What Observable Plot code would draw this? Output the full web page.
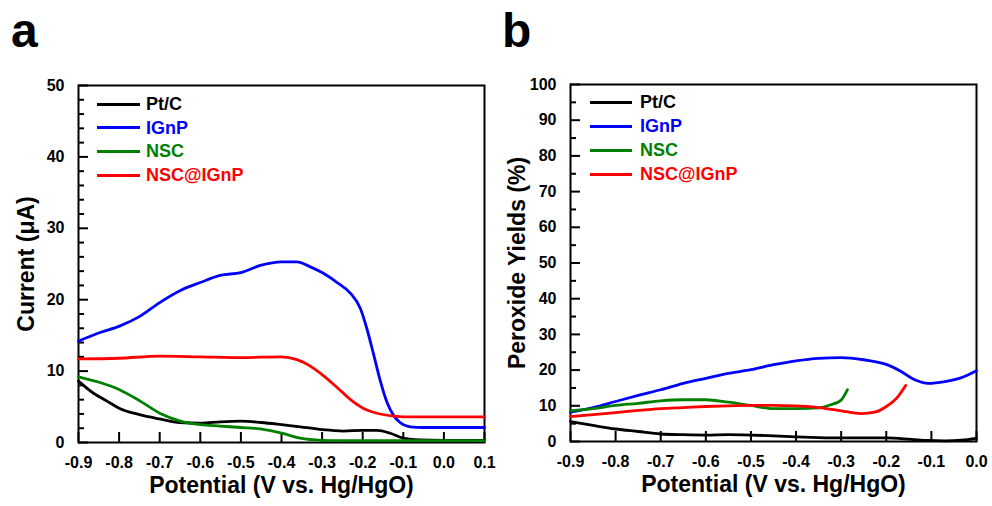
<!DOCTYPE html>
<html>
<head>
<meta charset="utf-8">
<script src="https://cdn.jsdelivr.net/npm/d3@7"></script>
<script src="https://cdn.jsdelivr.net/npm/@observablehq/plot@0.6"></script>
<style>
  html, body { margin: 0; padding: 0; background: #fff; }
  #root { position: relative; width: 992px; height: 506px; }
  #root svg { font-family: "Liberation Sans", Arial, sans-serif; font-size: 16px; font-weight: bold; color: #000; }
  .letter { position: absolute; font-family: "Liberation Sans", Arial, sans-serif; font-size: 48px; line-height: 48px; font-weight: bold; color: #000; }
  .lg-line { position: absolute; height: 3px; }
  .lg-text { position: absolute; font-family: "Liberation Sans", Arial, sans-serif; font-size: 18px; line-height: 18px; font-weight: bold; white-space: nowrap; }
</style>
</head>
<body>
<div id="root"></div>
<script>
// ---------- data ----------
const seriesNames = ["Pt/C", "IGnP", "NSC", "NSC@IGnP"];
const seriesColors = ["#000000", "#0000ff", "#008000", "#ff0000"];

// Panel a: current (µA) vs potential (V)
const aPtC_V = [-0.9, -0.863, -0.83, -0.8, -0.75, -0.7, -0.65, -0.6, -0.55, -0.5, -0.45, -0.4, -0.354, -0.3, -0.247, -0.2, -0.165, -0.132, -0.1, -0.059, 0.0, 0.1];
const aPtC_I = [8.6, 6.9, 5.8, 4.8, 3.9, 3.3, 2.8, 2.7, 2.9, 3.0, 2.8, 2.5, 2.2, 1.8, 1.6, 1.7, 1.7, 1.3, 0.6, 0.35, 0.3, 0.3];
const aIGnP_V = [-0.9, -0.847, -0.799, -0.748, -0.7, -0.649, -0.6, -0.551, -0.5, -0.452, -0.4, -0.362, -0.329, -0.3, -0.263, -0.23, -0.206, -0.19, -0.173, -0.157, -0.14, -0.124, -0.108, -0.083, -0.05, 0.0, 0.1];
const aIGnP_I = [14.2, 15.4, 16.3, 17.7, 19.6, 21.3, 22.4, 23.4, 23.8, 24.8, 25.3, 25.3, 24.6, 23.8, 22.4, 20.9, 18.8, 16.0, 12.3, 8.7, 5.6, 3.8, 2.8, 2.2, 2.1, 2.1, 2.1];
const aNSC_V = [-0.9, -0.847, -0.799, -0.748, -0.7, -0.649, -0.6, -0.551, -0.5, -0.452, -0.4, -0.354, -0.3, -0.25, 0.1];
const aNSC_I = [9.2, 8.4, 7.4, 5.8, 4.1, 3.0, 2.5, 2.3, 2.1, 1.9, 1.3, 0.6, 0.3, 0.25, 0.25];
const aNSCIGnP_V = [-0.9, -0.8, -0.699, -0.6, -0.5, -0.4, -0.362, -0.329, -0.3, -0.263, -0.23, -0.199, -0.165, -0.124, -0.099, 0.1];
const aNSCIGnP_I = [11.7, 11.8, 12.1, 12.0, 11.9, 12.0, 11.6, 10.7, 9.5, 7.7, 6.0, 4.8, 4.1, 3.7, 3.6, 3.6];

// Panel b: peroxide yields (%) vs potential (V)
const bPtC_V = [-0.9, -0.85, -0.8, -0.75, -0.7, -0.65, -0.6, -0.55, -0.5, -0.45, -0.4, -0.35, -0.3, -0.25, -0.2, -0.144, -0.107, -0.07, -0.033, 0.0];
const bPtC_Y = [5.6, 4.5, 3.5, 2.8, 2.1, 1.9, 1.8, 1.9, 1.8, 1.6, 1.3, 1.1, 1.0, 1.0, 1.0, 0.6, 0.3, 0.2, 0.4, 0.9];
const bIGnP_V = [-0.9, -0.85, -0.8, -0.75, -0.7, -0.65, -0.6, -0.55, -0.5, -0.45, -0.4, -0.35, -0.3, -0.25, -0.2, -0.167, -0.137, -0.107, -0.07, -0.033, 0.0];
const bIGnP_Y = [8.2, 9.5, 11.2, 12.9, 14.5, 16.3, 17.7, 19.1, 20.1, 21.5, 22.6, 23.3, 23.5, 22.9, 21.6, 19.6, 17.3, 16.3, 16.8, 17.9, 19.8];
const bNSC_V = [-0.9, -0.85, -0.8, -0.75, -0.7, -0.65, -0.6, -0.55, -0.5, -0.45, -0.4, -0.35, -0.323, -0.3, -0.286];
const bNSC_Y = [8.6, 9.2, 10.1, 10.7, 11.4, 11.7, 11.7, 11.0, 10.1, 9.2, 9.2, 9.4, 10.3, 11.6, 14.5];
const bNSCIGnP_V = [-0.9, -0.85, -0.8, -0.75, -0.7, -0.65, -0.6, -0.55, -0.5, -0.45, -0.4, -0.35, -0.3, -0.256, -0.226, -0.2, -0.174, -0.157];
const bNSCIGnP_Y = [7.0, 7.5, 8.1, 8.7, 9.2, 9.5, 9.8, 10.0, 10.1, 10.1, 10.0, 9.5, 8.6, 7.8, 8.2, 9.8, 12.6, 15.7];

// ticks & labels
const aXTicks = [-0.9, -0.8, -0.7, -0.6, -0.5, -0.4, -0.3, -0.2, -0.1, 0.0, 0.1];
const aYMajor = [0, 10, 20, 30, 40, 50];
const aYMinor = [2, 4, 6, 8, 12, 14, 16, 18, 22, 24, 26, 28, 32, 34, 36, 38, 42, 44, 46, 48];
const bXTicks = [-0.9, -0.8, -0.7, -0.6, -0.5, -0.4, -0.3, -0.2, -0.1, 0.0];
const bYMajor = [0, 10, 20, 30, 40, 50, 60, 70, 80, 90, 100];
const bYMinor = [5, 15, 25, 35, 45, 55, 65, 75, 85, 95];
const xTitle = "Potential (V vs. Hg/HgO)";
const aYTitle = "Current (\u03BCA)";
const bYTitle = "Peroxide Yields (%)";
const panelLetters = ["a", "b"];

// ---------- build ----------
function rows(names, Vs, Ys) {
  const out = [];
  names.forEach((n, k) => Vs[k].forEach((v, i) => out.push({series: n, v, y: Ys[k][i]})));
  return out;
}
const aData = rows(seriesNames, [aPtC_V, aIGnP_V, aNSC_V, aNSCIGnP_V], [aPtC_I, aIGnP_I, aNSC_I, aNSCIGnP_I]);
const bData = rows(seriesNames, [bPtC_V, bIGnP_V, bNSC_V, bNSCIGnP_V], [bPtC_Y, bIGnP_Y, bNSC_Y, bNSCIGnP_Y]);

const W = 496, H = 506;
function panel({data, xDomain, yDomain, xTicks, yMajor, yMinor, yTitle, ml, mr, mt, mb, yTitleDx}) {
  const fw = W - ml - mr;
  const xu = (xDomain[1] - xDomain[0]) / fw;
  const marks = [
    Plot.frame({stroke: "#000", strokeWidth: 2}),
    Plot.axisX({ticks: xTicks, tickSize: -10, tickPadding: 24, strokeWidth: 2, stroke: "#000", tickFormat: d => d.toFixed(1), label: null}),
    Plot.axisY({ticks: yMajor, tickSize: -10, tickPadding: 24, strokeWidth: 2, stroke: "#000", tickFormat: d => String(d), label: null}),
    Plot.ruleY(yMinor, {y: d => d, x1: xDomain[0], x2: xDomain[0] + 6 * xu, stroke: "#000", strokeWidth: 2})
  ];
  for (const name of seriesNames) {
    marks.push(Plot.line(data.filter(d => d.series === name), {
      x: "v", y: "y", stroke: seriesColors[seriesNames.indexOf(name)], strokeWidth: 2.8, curve: "monotone-x"
    }));
  }
  marks.push(
    Plot.text([xTitle], {text: d => d, frameAnchor: "bottom", dy: 50, fontSize: 23, fontWeight: "bold", textAnchor: "middle"}),
    Plot.text([yTitle], {text: d => d, frameAnchor: "left", dx: yTitleDx, rotate: -90, fontSize: 23, fontWeight: "bold", textAnchor: "middle"})
  );
  return Plot.plot({
    width: W, height: H,
    marginLeft: ml, marginRight: mr, marginTop: mt, marginBottom: mb,
    x: {domain: xDomain},
    y: {domain: yDomain},
    marks
  });
}

const root = document.getElementById("root");
const pa = panel({data: aData, xDomain: [-0.9, 0.1], yDomain: [0, 50], xTicks: aXTicks, yMajor: aYMajor, yMinor: aYMinor,
  yTitle: aYTitle, ml: 78, mr: 12, mt: 85, mb: 64, yTitleDx: -52});
const pb = panel({data: bData, xDomain: [-0.9, 0.0], yDomain: [0, 100], xTicks: bXTicks, yMajor: bYMajor, yMinor: bYMinor,
  yTitle: bYTitle, ml: 74, mr: 16, mt: 84, mb: 65, yTitleDx: -53});
pa.style.position = "absolute"; pa.style.left = "0px"; pa.style.top = "0px";
pb.style.position = "absolute"; pb.style.left = "496px"; pb.style.top = "0px";
root.appendChild(pa); root.appendChild(pb);

// panel letters
[[11, 7], [502, 7]].forEach(([x, y], i) => {
  const el = document.createElement("div");
  el.className = "letter"; el.textContent = panelLetters[i];
  el.style.left = x + "px"; el.style.top = y + "px";
  root.appendChild(el);
});

// legends
function legend(lineX, lineW, textX, centers) {
  seriesNames.forEach((n, i) => {
    const ln = document.createElement("div");
    ln.className = "lg-line";
    ln.style.left = lineX + "px"; ln.style.width = lineW + "px";
    ln.style.top = (centers[i] - 1.5) + "px"; ln.style.background = seriesColors[i];
    root.appendChild(ln);
    const tx = document.createElement("div");
    tx.className = "lg-text"; tx.textContent = n; tx.style.color = seriesColors[i];
    tx.style.left = textX + "px"; tx.style.top = (centers[i] - 8.8) + "px";
    root.appendChild(tx);
  });
}
legend(97, 43, 146, [104, 127.5, 151, 175]);
legend(590, 42, 640, [102, 126, 150, 174]);
</script>
</body>
</html>
